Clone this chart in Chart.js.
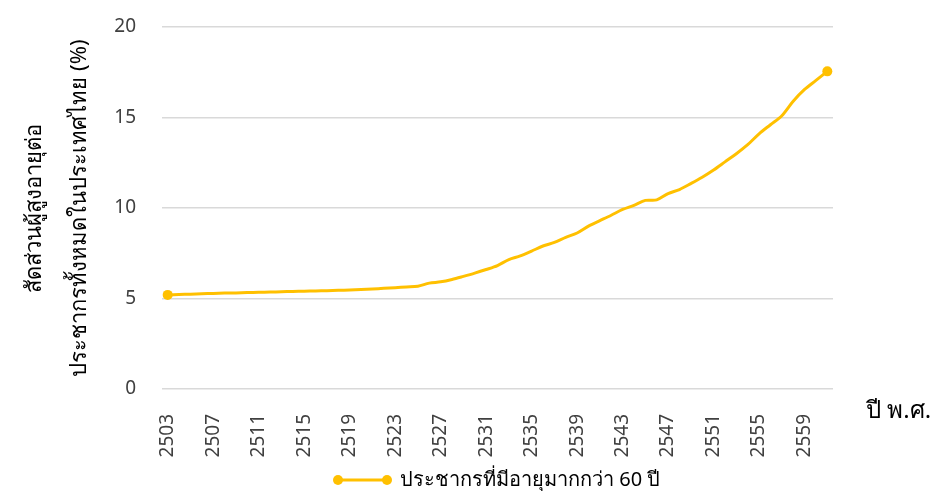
<!DOCTYPE html>
<html>
<head>
<meta charset="utf-8">
<script src="https://cdn.jsdelivr.net/npm/chart.js@4"></script>
<style>
  html, body { margin: 0; padding: 0; background: #fff; }
  #wrap { width: 933px; height: 491px; position: relative; }
</style>
</head>
<body>
<div id="wrap"><canvas id="graphic-elderly"></canvas></div>
<script>
const years = [];
for (let y = 2503; y <= 2561; y++) years.push(String(y));

const elderlyShare = [
    5.20, 5.22, 5.24, 5.26, 5.28, 5.30, 5.31, 5.33, 5.34, 5.36,
    5.37, 5.39, 5.40, 5.42, 5.43, 5.45, 5.47, 5.50, 5.53, 5.56,
    5.60, 5.64, 5.68, 5.85, 5.92, 6.05, 6.22, 6.40, 6.60, 6.82,
    7.15, 7.35, 7.62, 7.90, 8.10, 8.38, 8.62, 9.00, 9.30, 9.60,
    9.92, 10.15, 10.42, 10.45, 10.80, 11.02, 11.35, 11.70, 12.10, 12.55,
    13.00, 13.50, 14.10, 14.60, 15.10, 15.90, 16.55, 17.05, 17.55
];

const seriesLabel = 'ประชากรที่มีอายุมากกว่า 60 ปี';
const yTitle = ['สัดส่วนผู้สูงอายุต่อ', 'ประชากรทั้งหมดในประเทศไทย (%)'];
const xTitle = 'ปี พ.ศ.';

const gold = '#FFC000';
const fontFamily = '"Noto Sans", "DejaVu Sans", sans-serif';

// x title at the right of the axis and a legend drawn by hand (line with dots at both ends)
const extrasPlugin = {
    id: 'extras',
    afterDraw(chart) {
        const ctx = chart.ctx;
        const area = chart.chartArea;
        ctx.save();
        ctx.font = '24px ' + fontFamily;
        ctx.fillStyle = '#000';
        ctx.textAlign = 'left';
        ctx.textBaseline = 'middle';
        ctx.fillText(xTitle, area.right + 33, area.bottom + 22);

        const ly = 480;
        ctx.strokeStyle = gold;
        ctx.fillStyle = gold;
        ctx.lineWidth = 3;
        ctx.beginPath();
        ctx.moveTo(338, ly);
        ctx.lineTo(387, ly);
        ctx.stroke();
        ctx.beginPath(); ctx.arc(338, ly, 5, 0, Math.PI * 2); ctx.fill();
        ctx.beginPath(); ctx.arc(387, ly, 5, 0, Math.PI * 2); ctx.fill();

        ctx.font = '20px ' + fontFamily;
        ctx.fillStyle = '#000';
        ctx.fillText(seriesLabel, 400, ly);
        ctx.restore();
    }
};

const data = {
    labels: years,
    datasets: [{
        label: seriesLabel,
        data: elderlyShare,
        borderColor: gold,
        backgroundColor: gold,
        borderWidth: 3,
        tension: 0.3,
        pointRadius: ctx => (ctx.dataIndex === 0 || ctx.dataIndex === elderlyShare.length - 1) ? 5 : 0,
        pointHoverRadius: 5,
        pointBackgroundColor: gold,
        pointBorderWidth: 0
    }]
};

const config = {
    type: 'line',
    data: data,
    plugins: [extrasPlugin],
    options: {
        responsive: false,
        animation: false,
        layout: {
            padding: { left: 12, right: 100, top: 27, bottom: 0 }
        },
        scales: {
            x: {
                offset: true,
                grid: { display: false },
                border: { display: false },
                afterFit: scale => {
                    scale.height = 102;
                    scale.paddingLeft = 0;
                    scale.paddingRight = 0;
                },
                ticks: {
                    autoSkip: false,
                    maxRotation: 90,
                    minRotation: 90,
                    padding: 17,
                    color: '#404040',
                    font: { size: 19, family: fontFamily },
                    callback: function (value, index) {
                        return index % 4 === 0 ? this.getLabelForValue(value) : null;
                    }
                }
            },
            y: {
                min: 0,
                max: 20,
                grid: { color: '#d9d9d9', lineWidth: 1.5, drawTicks: false },
                border: { display: false },
                afterFit: scale => {
                    scale.width = 150;
                    scale.paddingTop = 0;
                    scale.paddingBottom = 0;
                },
                ticks: {
                    stepSize: 5,
                    padding: 26,
                    color: '#404040',
                    font: { size: 19, family: fontFamily }
                },
                title: {
                    display: true,
                    text: yTitle,
                    color: '#000',
                    padding: { top: 0, bottom: 13 },
                    font: { size: 22, family: fontFamily, lineHeight: 2.05 }
                }
            }
        },
        plugins: {
            legend: { display: false },
            tooltip: { enabled: false }
        }
    }
};

const canvas = document.getElementById('graphic-elderly');
canvas.width = 933;
canvas.height = 491;
new Chart(canvas, config);
</script>
</body>
</html>
